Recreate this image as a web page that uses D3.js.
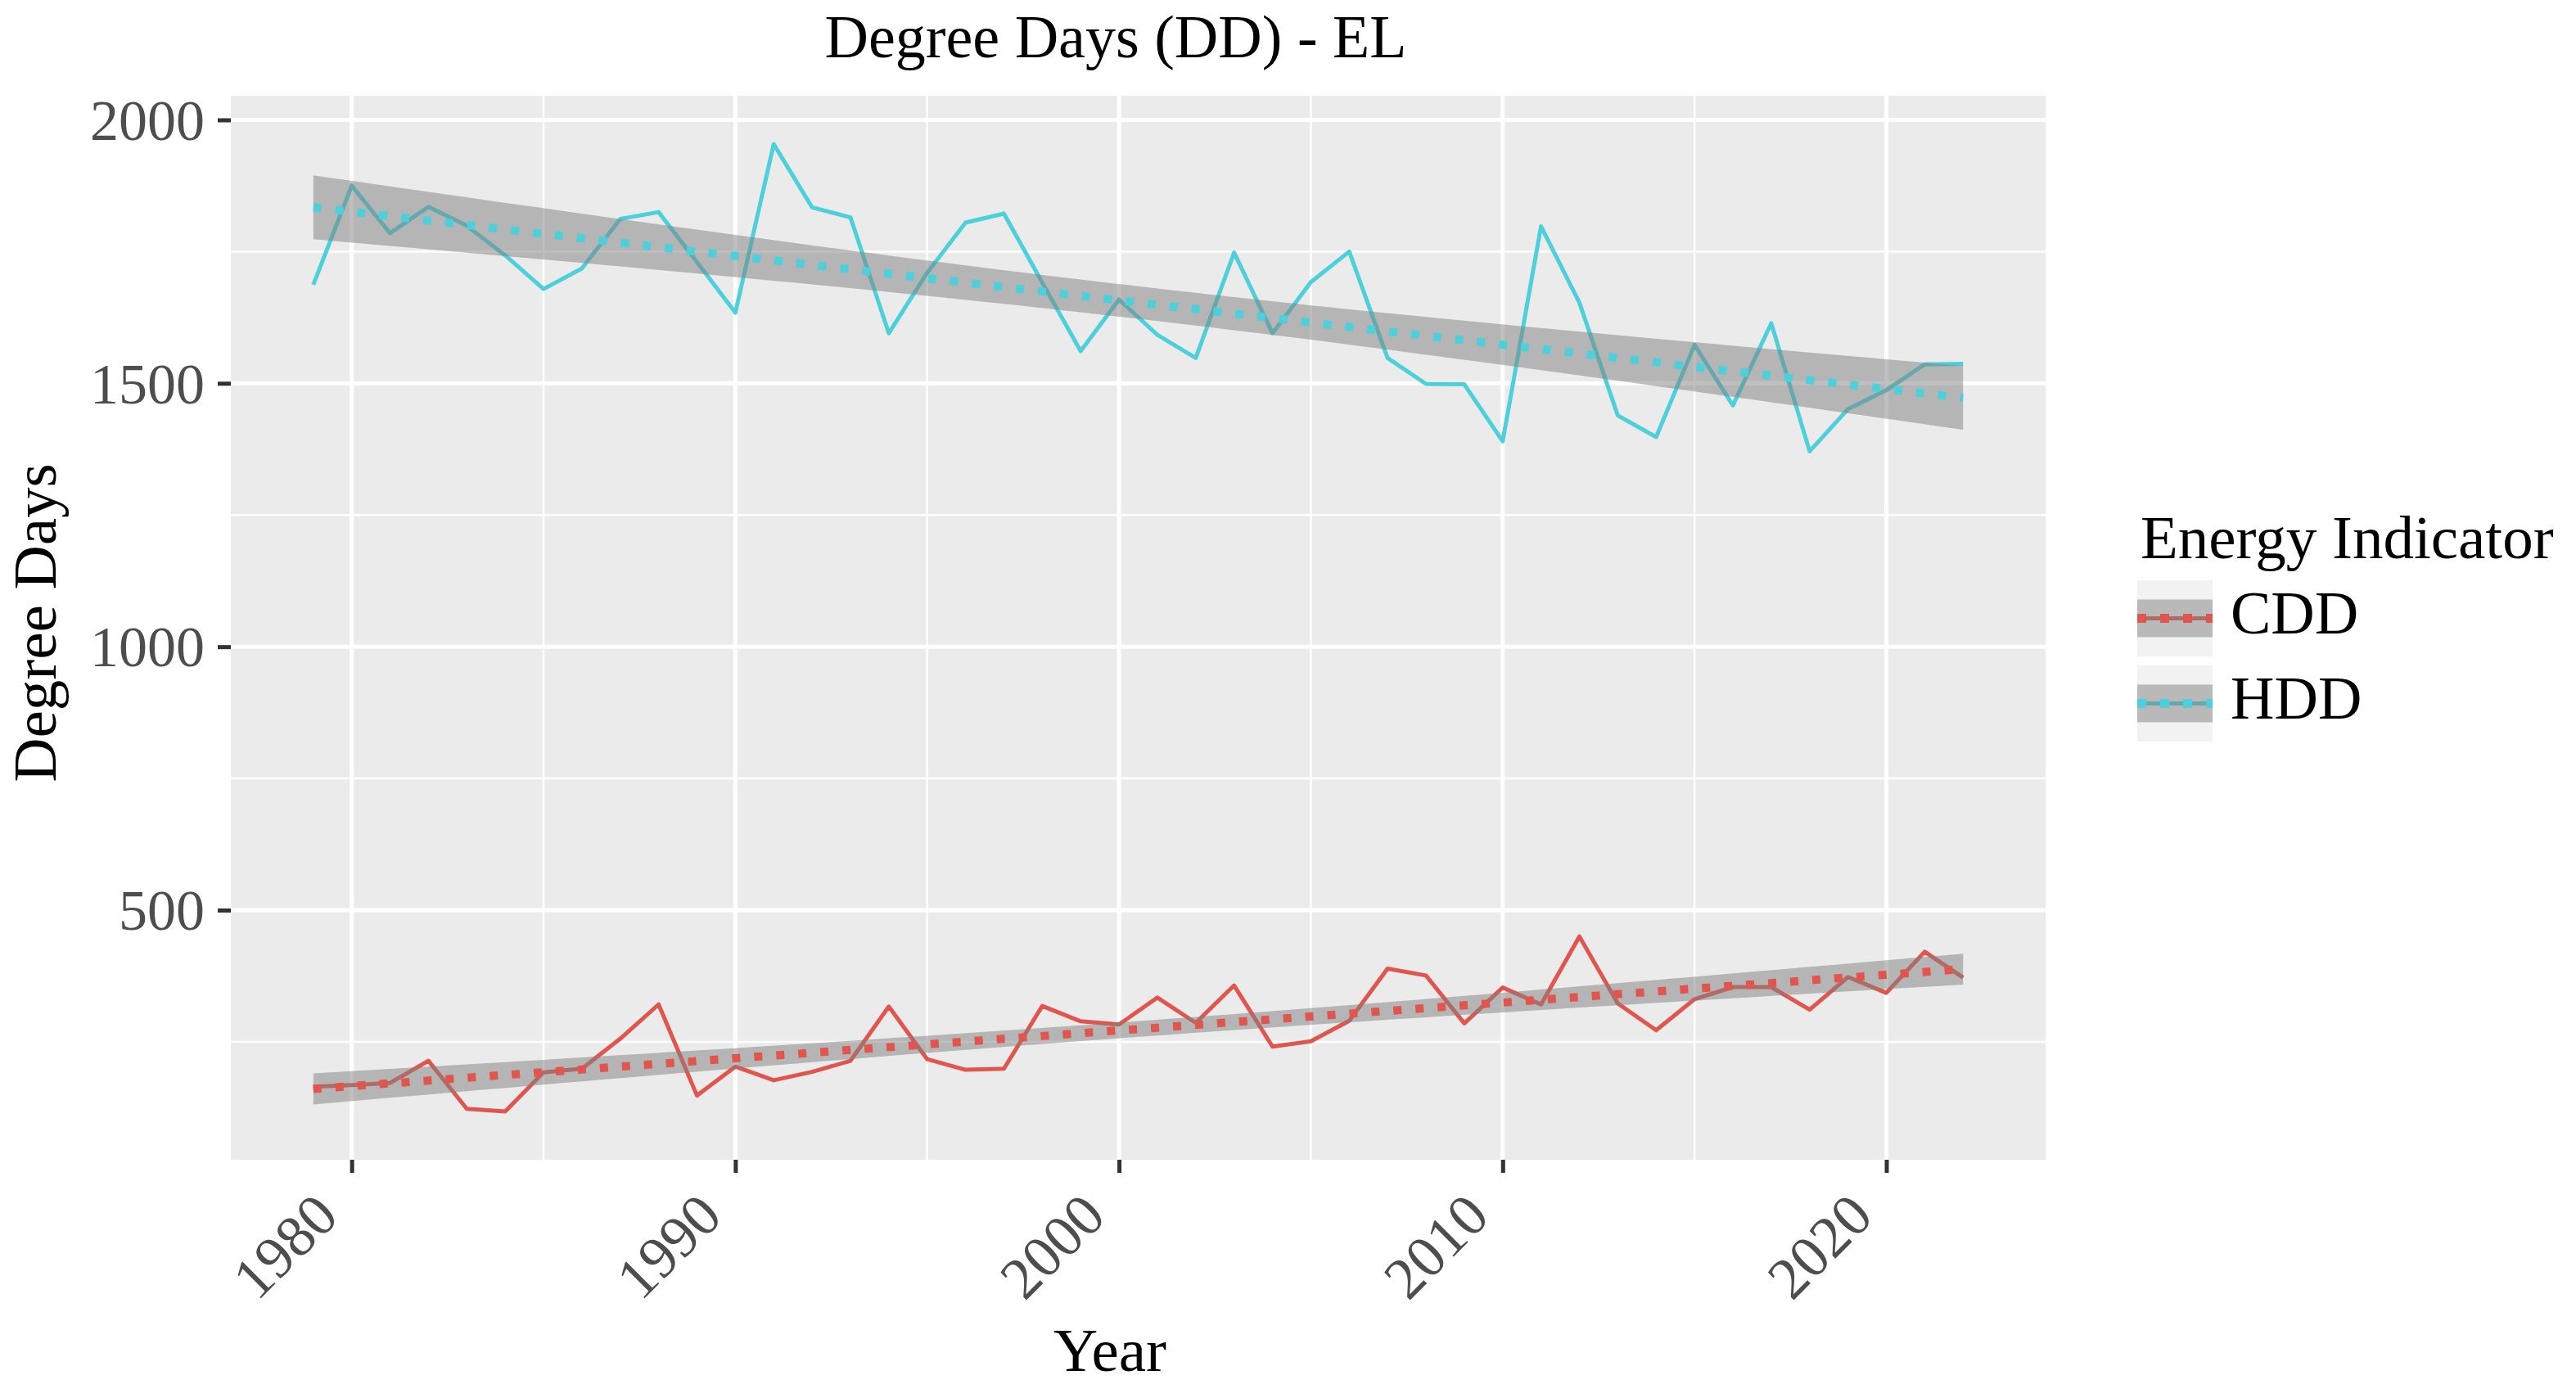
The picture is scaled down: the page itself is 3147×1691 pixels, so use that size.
<!DOCTYPE html>
<html>
<head>
<meta charset="utf-8">
<script src="https://cdn.jsdelivr.net/npm/d3@7"></script>
<style>
    body { margin: 0; background: #fff; }
    svg { display: block; }
</style>
</head>
<body>
<svg></svg>
<script>
// Values.
var years = [1979, 1980, 1981, 1982, 1983, 1984, 1985, 1986, 1987, 1988,
             1989, 1990, 1991, 1992, 1993, 1994, 1995, 1996, 1997, 1998,
             1999, 2000, 2001, 2002, 2003, 2004, 2005, 2006, 2007, 2008,
             2009, 2010, 2011, 2012, 2013, 2014, 2015, 2016, 2017, 2018,
             2019, 2020, 2021, 2022];

var hdd = [1687, 1875, 1785, 1835, 1799, 1743, 1679, 1718, 1812, 1825,
           1730, 1634, 1954, 1834, 1815, 1595, 1710, 1805, 1822, 1691,
           1561, 1659, 1592, 1548, 1748, 1595, 1692, 1750, 1548, 1499,
           1498, 1390, 1798, 1653, 1439, 1398, 1573, 1458, 1614, 1371,
           1451, 1487, 1536, 1537];

var cdd = [165, 168, 172, 214, 123, 118, 192, 199, 256, 321,
           148, 203, 177, 193, 214, 317, 217, 197, 199, 318,
           289, 283, 334, 286, 357, 241, 251, 290, 389, 376,
           285, 353, 321, 450, 323, 272, 331, 354, 354, 311,
           373, 343, 421, 372];

var seriesNames = ["CDD", "HDD"];
var seriesColors = ["#E0564E", "#4DD0D9"];
var xTicks = [1980, 1990, 2000, 2010, 2020];
var xMinorTicks = [1985, 1995, 2005, 2015];
var yTicks = [500, 1000, 1500, 2000];
var yMinorTicks = [250, 750, 1250, 1750];


//==========================================================================
// Linear fit with a 95% confidence band (like geom_smooth(method = "lm")).

function lmBand(xs, ys) {
    var n = xs.length;
    var xbar = d3.mean(xs);
    var ybar = d3.mean(ys);
    var sxx = d3.sum(xs, function(x) { return (x - xbar) * (x - xbar); });
    var sxy = d3.sum(xs, function(x, i) { return (x - xbar) * (ys[i] - ybar); });
    var slope = sxy / sxx;
    var intercept = ybar - slope * xbar;
    var sse = d3.sum(xs, function(x, i) {
        var r = ys[i] - (intercept + slope * x);
        return r * r;
    });
    var s = Math.sqrt(sse / (n - 2));
    var t = 2.018; // t(0.975, df = 42)
    var x0 = d3.min(xs), x1 = d3.max(xs);
    return d3.range(80).map(function(i) {
        var x = x0 + (x1 - x0) * i / 79;
        var fit = intercept + slope * x;
        var se = s * Math.sqrt(1 / n + (x - xbar) * (x - xbar) / sxx);
        return { x: x, fit: fit, lo: fit - t * se, hi: fit + t * se };
    });
}

var series = [
    { name: seriesNames[0], color: seriesColors[0], values: cdd },
    { name: seriesNames[1], color: seriesColors[1], values: hdd }
];
series.forEach(function(s) {
    s.band = lmBand(years, s.values);
});


//==========================================================================
// Create the graphic elements.

var width = 3147;
var height = 1691;
var panel = { left: 282, right: 2499, top: 117, bottom: 1417 };
var fontFamily = "'Liberation Serif', 'DejaVu Serif', serif";

var svg = d3.select("svg")
    .attr("width", width)
    .attr("height", height)
    .style("font-family", fontFamily)
;

var xExtent = d3.extent(years);
var xPad = (xExtent[1] - xExtent[0]) * 0.05;
var xScale = d3.scaleLinear()
    .domain([xExtent[0] - xPad, xExtent[1] + xPad])
    .range([panel.left, panel.right])
;

var allY = [];
series.forEach(function(s) {
    allY = allY.concat(s.values);
    s.band.forEach(function(b) { allY.push(b.lo, b.hi); });
});
var yExtent = d3.extent(allY);
var yPad = (yExtent[1] - yExtent[0]) * 0.05;
var yScale = d3.scaleLinear()
    .domain([yExtent[0] - yPad, yExtent[1] + yPad])
    .range([panel.bottom, panel.top])
;

// Panel background and grid.
svg.append("rect")
    .attr("x", panel.left)
    .attr("y", panel.top)
    .attr("width", panel.right - panel.left)
    .attr("height", panel.bottom - panel.top)
    .attr("fill", "#EBEBEB")
;

var grid = svg.append("g").attr("stroke", "#fff");

grid.selectAll(".ygrid-minor")
    .data(yMinorTicks)
    .enter()
    .append("line")
    .attr("x1", panel.left).attr("x2", panel.right)
    .attr("y1", function(d) { return yScale(d); })
    .attr("y2", function(d) { return yScale(d); })
    .attr("stroke-width", 2.5)
;
grid.selectAll(".xgrid-minor")
    .data(xMinorTicks)
    .enter()
    .append("line")
    .attr("y1", panel.top).attr("y2", panel.bottom)
    .attr("x1", function(d) { return xScale(d); })
    .attr("x2", function(d) { return xScale(d); })
    .attr("stroke-width", 2.5)
;
grid.selectAll(".ygrid")
    .data(yTicks)
    .enter()
    .append("line")
    .attr("x1", panel.left).attr("x2", panel.right)
    .attr("y1", function(d) { return yScale(d); })
    .attr("y2", function(d) { return yScale(d); })
    .attr("stroke-width", 5)
;
grid.selectAll(".xgrid")
    .data(xTicks)
    .enter()
    .append("line")
    .attr("y1", panel.top).attr("y2", panel.bottom)
    .attr("x1", function(d) { return xScale(d); })
    .attr("x2", function(d) { return xScale(d); })
    .attr("stroke-width", 5)
;

// Raw series lines, then the smooth ribbons and dotted fits on top.
var line = d3.line()
    .x(function(d, i) { return xScale(years[i]); })
    .y(function(d) { return yScale(d); })
;
var area = d3.area()
    .x(function(d) { return xScale(d.x); })
    .y0(function(d) { return yScale(d.lo); })
    .y1(function(d) { return yScale(d.hi); })
;
var fitLine = d3.line()
    .x(function(d) { return xScale(d.x); })
    .y(function(d) { return yScale(d.fit); })
;

svg.append("g")
    .selectAll("path")
    .data(series)
    .enter()
    .append("path")
    .attr("d", function(d) { return line(d.values); })
    .attr("fill", "none")
    .attr("stroke", function(d) { return d.color; })
    .attr("stroke-width", 5)
    .attr("stroke-linejoin", "round")
;

var smooths = svg.append("g")
    .selectAll("g")
    .data(series)
    .enter()
    .append("g")
;
smooths.append("path")
    .attr("d", function(d) { return area(d.band); })
    .attr("fill", "#7F7F7F")
    .attr("fill-opacity", 0.5)
;
smooths.append("path")
    .attr("d", function(d) { return fitLine(d.band); })
    .attr("fill", "none")
    .attr("stroke", function(d) { return d.color; })
    .attr("stroke-width", 10)
    .attr("stroke-dasharray", "10,17")
;

// Axes.
var yAxis = svg.append("g")
    .attr("transform", "translate(" + panel.left + ",0)")
    .call(d3.axisLeft(yScale).tickValues(yTicks).tickFormat(d3.format("d")).tickSize(16).tickPadding(16))
;
yAxis.select(".domain").remove();
yAxis.selectAll("line").attr("stroke", "#333").attr("stroke-width", 5);
yAxis.selectAll("text")
    .attr("fill", "#4D4D4D")
    .attr("font-size", 70)
    .attr("font-family", fontFamily)
    .attr("dy", "0.34em")
;

var xAxis = svg.append("g")
    .attr("transform", "translate(0," + panel.bottom + ")")
    .call(d3.axisBottom(xScale).tickValues(xTicks).tickFormat(d3.format("d")).tickSize(16))
;
xAxis.select(".domain").remove();
xAxis.selectAll("line").attr("stroke", "#333").attr("stroke-width", 5);
xAxis.selectAll("text")
    .attr("fill", "#4D4D4D")
    .attr("font-size", 72)
    .attr("font-family", fontFamily)
    .attr("y", null)
    .attr("dy", null)
    .attr("text-anchor", "end")
    .attr("transform", "translate(-14,72) rotate(-45)")
;

// Titles.
svg.append("text")
    .attr("x", 1363)
    .attr("y", 70)
    .attr("text-anchor", "middle")
    .attr("font-size", 74)
    .text("Degree Days (DD) - EL")
;
svg.append("text")
    .attr("x", 1356)
    .attr("y", 1675)
    .attr("text-anchor", "middle")
    .attr("font-size", 75)
    .text("Year")
;
svg.append("text")
    .attr("transform", "translate(68,761) rotate(-90)")
    .attr("text-anchor", "middle")
    .attr("font-size", 75)
    .text("Degree Days")
;

// Legend.
var legend = svg.append("g").attr("transform", "translate(2611,0)");
legend.append("text")
    .attr("x", 4)
    .attr("y", 682)
    .attr("font-size", 75)
    .text("Energy Indicator")
;
var keyW = 92, keyH = 93;
var keys = legend.selectAll(".key")
    .data(series)
    .enter()
    .append("g")
    .attr("transform", function(d, i) { return "translate(0," + (709 + i * 104) + ")"; })
;
keys.append("rect")
    .attr("width", keyW)
    .attr("height", keyH)
    .attr("fill", "#F2F2F2")
;
keys.append("line")
    .attr("x1", 0).attr("x2", keyW)
    .attr("y1", keyH / 2).attr("y2", keyH / 2)
    .attr("stroke", function(d) { return d.color; })
    .attr("stroke-width", 5)
;
keys.append("rect")
    .attr("y", keyH / 2 - 23)
    .attr("width", keyW)
    .attr("height", 46)
    .attr("fill", "#7F7F7F")
    .attr("fill-opacity", 0.5)
;
keys.append("line")
    .attr("x1", 0).attr("x2", keyW)
    .attr("y1", keyH / 2).attr("y2", keyH / 2)
    .attr("stroke", function(d) { return d.color; })
    .attr("stroke-width", 11)
    .attr("stroke-dasharray", "11,17")
;
keys.append("text")
    .attr("x", 114)
    .attr("y", keyH / 2 + 18)
    .attr("font-size", 74)
    .text(function(d) { return d.name; })
;
</script>
</body>
</html>
